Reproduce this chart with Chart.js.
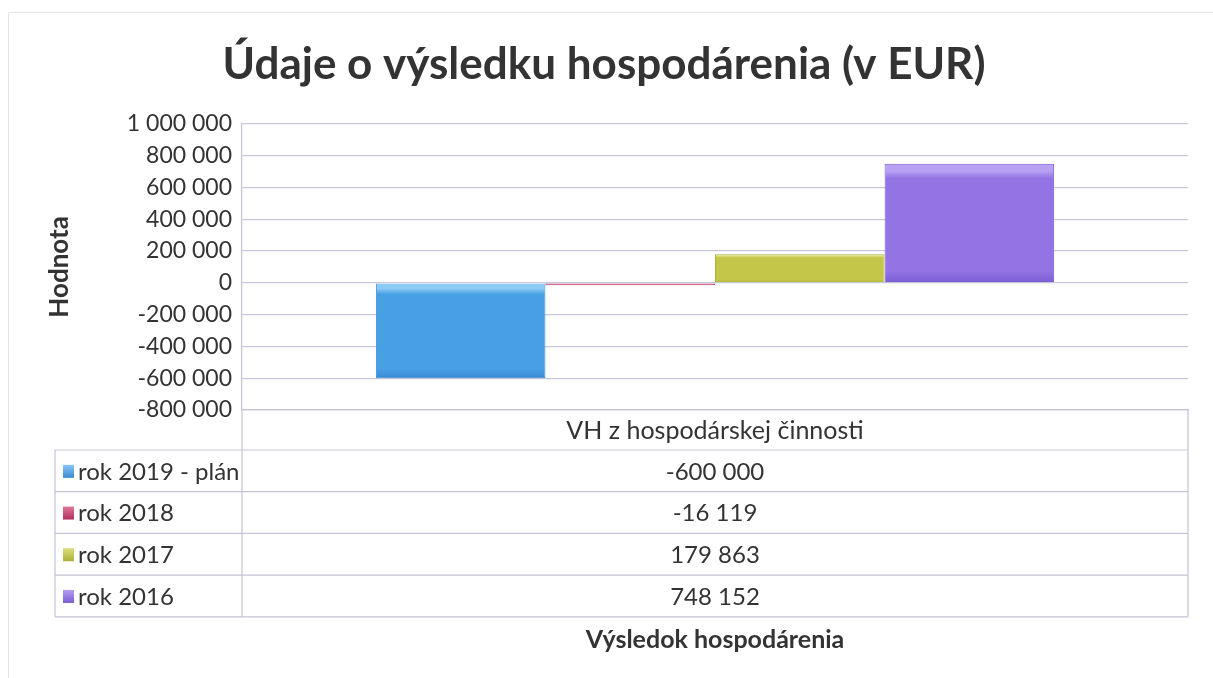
<!DOCTYPE html>
<html>
<head>
<meta charset="utf-8">
<script src="https://cdn.jsdelivr.net/npm/chart.js@4"></script>
<style>
  html, body { margin: 0; padding: 0; background: #fff; }
  #wrap { position: relative; width: 1213px; height: 678px; }
  canvas { display: block; }
</style>
</head>
<body>
<div id="wrap"><canvas id="c" width="1213" height="678"></canvas></div>
<script>
// ---- data ----
const chartTitle = 'Údaje o výsledku hospodárenia (v EUR)';
const categories = ['VH z hospodárskej činnosti'];
const seriesNames = ['rok 2019 - plán', 'rok 2018', 'rok 2017', 'rok 2016'];
const seriesValues = [-600000, -16119, 179863, 748152];
const seriesColors = ['#48a0e4', '#cc4472', '#c4c64a', '#9474e4'];
const seriesLight = ['#8ccbf5', '#e27c9c', '#e0e082', '#b9a2f4'];
const seriesDark = ['#3a8ad4', '#b23060', '#aeb03a', '#7a5cd4'];
const yMin = -800000, yMax = 1000000, yStep = 200000;
const yTitle = 'Hodnota';
const xTitle = 'Výsledok hospodárenia';

const FONT = 'Lato, "Open Sans", sans-serif';

function fmt(v) {
  const s = Math.abs(Math.round(v)).toString().replace(/\B(?=(\d{3})+(?!\d))/g, ' ');
  return (v < 0 ? '-' : '') + s;
}

function gradFill(i) {
  return (ctx) => {
    const ch = ctx.chart;
    const ys = ch.scales && ch.scales.y;
    if (!ch.chartArea || !ys || !ctx.parsed) return seriesColors[i];
    const p0 = ys.getPixelForValue(0);
    const p1 = ys.getPixelForValue(ctx.parsed.y);
    const top = Math.min(p0, p1), bot = Math.max(p0, p1);
    if (bot - top < 2) return seriesColors[i];
    const g = ch.ctx.createLinearGradient(0, top, 0, bot);
    g.addColorStop(0, seriesLight[i]);
    g.addColorStop(0.06, seriesLight[i]);
    g.addColorStop(0.12, seriesColors[i]);
    g.addColorStop(0.9, seriesColors[i]);
    g.addColorStop(1, seriesDark[i]);
    return g;
  };
}

const ROW_H = 41.7;
const HEADER_H = 40;
const TABLE_LEFT = 55;

const tablePlugin = {
  id: 'dataTable',
  afterDraw(chart) {
    const ctx = chart.ctx;
    const a = chart.chartArea;
    const left = a.left, right = a.right;
    const top = a.bottom;
    const rowsTop = top + HEADER_H;
    const n = seriesNames.length;
    const bottom = rowsTop + n * ROW_H;
    ctx.save();
    ctx.strokeStyle = '#c4c4d6';
    ctx.lineWidth = 1.2;
    ctx.beginPath();
    ctx.moveTo(left, top); ctx.lineTo(left, bottom);
    ctx.moveTo(right, top); ctx.lineTo(right, bottom);
    ctx.moveTo(TABLE_LEFT, rowsTop); ctx.lineTo(TABLE_LEFT, bottom);
    for (let r = 0; r <= n; r++) {
      const y = rowsTop + r * ROW_H;
      ctx.moveTo(TABLE_LEFT, y); ctx.lineTo(right, y);
    }
    ctx.stroke();

    ctx.font = '24px ' + FONT;
    ctx.textBaseline = 'middle';
    const cx = (left + right) / 2;
    for (let r = 0; r < n; r++) {
      const yc = rowsTop + r * ROW_H + ROW_H / 2;
      const kg = ctx.createLinearGradient(0, yc - 7, 0, yc + 7);
      kg.addColorStop(0, seriesLight[r]);
      kg.addColorStop(1, seriesDark[r]);
      ctx.fillStyle = kg;
      ctx.fillRect(TABLE_LEFT + 8, yc - 6, 11, 13);
      ctx.fillStyle = '#333';
      ctx.textAlign = 'left';
      ctx.fillText(seriesNames[r], TABLE_LEFT + 23, yc + 1);
      ctx.textAlign = 'center';
      ctx.fillText(fmt(seriesValues[r]), cx, yc + 1);
    }
    // faint page frame
    ctx.strokeStyle = '#e2e2e2';
    ctx.lineWidth = 1;
    ctx.beginPath();
    ctx.moveTo(8.5, 678); ctx.lineTo(8.5, 12.5); ctx.lineTo(1213, 12.5);
    ctx.stroke();
    ctx.restore();
  }
};

const datasets = seriesNames.map((name, i) => ({
  label: name,
  data: [seriesValues[i]],
  backgroundColor: gradFill(i),
  borderColor: seriesDark[i],
  borderWidth: 1,
  barPercentage: 1.0,
  categoryPercentage: 0.717
}));

new Chart(document.getElementById('c'), {
  type: 'bar',
  data: { labels: categories, datasets },
  plugins: [tablePlugin],
  options: {
    responsive: false,
    animation: false,
    layout: { padding: { left: 20, right: 25, top: 0, bottom: 10 } },
    plugins: {
      legend: { display: false },
      tooltip: { enabled: false },
      title: {
        display: true,
        text: chartTitle,
        color: '#333',
        font: { family: FONT, size: 44, weight: 'bold' },
        padding: { top: 38, bottom: 33 }
      }
    },
    scales: {
      x: {
        grid: { display: false, drawTicks: false },
        border: { display: true, color: '#c4c4d6', width: 1.2 },
        ticks: { color: '#333', font: { family: FONT, size: 25 }, padding: 6 },
        title: {
          display: true, text: xTitle, color: '#333',
          font: { family: FONT, size: 25, weight: 'bold' },
          padding: { top: 0, bottom: 13 }
        },
        afterFit(s) { s.height = 258; }
      },
      y: {
        min: yMin, max: yMax,
        grid: { color: '#c8c8da', lineWidth: 1.2, drawTicks: false },
        border: { display: true, color: '#c4c4d6', width: 1.2 },
        ticks: {
          stepSize: yStep, color: '#333', padding: 10,
          font: { family: FONT, size: 23 },
          callback: (v) => fmt(v)
        },
        title: {
          display: true, text: yTitle, color: '#333',
          font: { family: FONT, size: 26, weight: 'bold' },
          padding: { top: 24, bottom: 0 }
        },
        afterFit(s) { s.width = 222; }
      }
    }
  }
});
</script>
</body>
</html>
